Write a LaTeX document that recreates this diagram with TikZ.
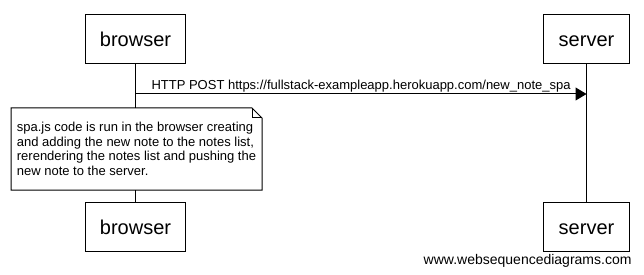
\documentclass[tikz,border=0pt]{standalone}
\usepackage{fontspec}
\setmainfont{Liberation Sans}
\usetikzlibrary{arrows.meta}
\begin{document}
\begin{tikzpicture}[x=1pt,y=-1pt,line width=1pt,
  actor/.style={draw,fill=white,minimum height=49pt,inner sep=0pt,
    text height=15pt,text depth=0pt,font=\fontsize{20}{24}\selectfont},
  lifeline/.style={draw},
  msgline/.style={-{Triangle[length=11pt,width=13pt]}},
  msglabel/.style={anchor=base west,inner sep=0pt,font=\fontsize{13}{15}\selectfont},
  notetext/.style={anchor=north west,fill=white,align=left,
    inner xsep=5pt,inner ysep=0pt,minimum width=250pt,minimum height=81pt,
    font=\fontsize{13}{14.5}\selectfont},
  notebox/.style={draw},
  credit/.style={anchor=base east,inner sep=0pt,font=\fontsize{14}{16}\selectfont}]
  \useasboundingbox (0,0) rectangle (644,275);

  % participants, top and bottom
  \node[actor,minimum width=100pt] (browserTop) at (135.5,39.5) {browser};
  \node[actor,minimum width=86pt]  (serverTop)  at (586.5,39.5) {server};
  \node[actor,minimum width=100pt] (browserBot) at (135.5,226.5) {browser};
  \node[actor,minimum width=86pt]  (serverBot)  at (586.5,226.5) {server};

  % lifelines
  \draw[lifeline] (browserTop.south) -- (browserBot.north);
  \draw[lifeline] (serverTop.south) -- (serverBot.north);

  % message
  \coordinate (msg) at (0,94);
  \draw[msgline] (browserTop |- msg) -- (serverTop |- msg);
  \node[msglabel] (msgtext) at (151,89.5)
    {HTTP POST https://fullstack-exampleapp.herokuapp.com/new\_note\_spa};

  % note with folded corner
  \node[notetext] (note) at (11,108)
    {spa.js code is run in the browser creating\\
     and adding the new note to the notes list,\\
     rerendering the notes list and pushing the\\
     new note to the server.};
  \draw[notebox] (note.north west) -- ([xshift=-10pt]note.north east)
    -- ([yshift=-10pt]note.north east) -- (note.south east)
    -- (note.south west) -- cycle;
  \draw[notebox] ([xshift=-10pt]note.north east) |- ([yshift=-10pt]note.north east);

  \node[credit] (credit) at (632,264.5) {www.websequencediagrams.com};
\end{tikzpicture}
\end{document}
